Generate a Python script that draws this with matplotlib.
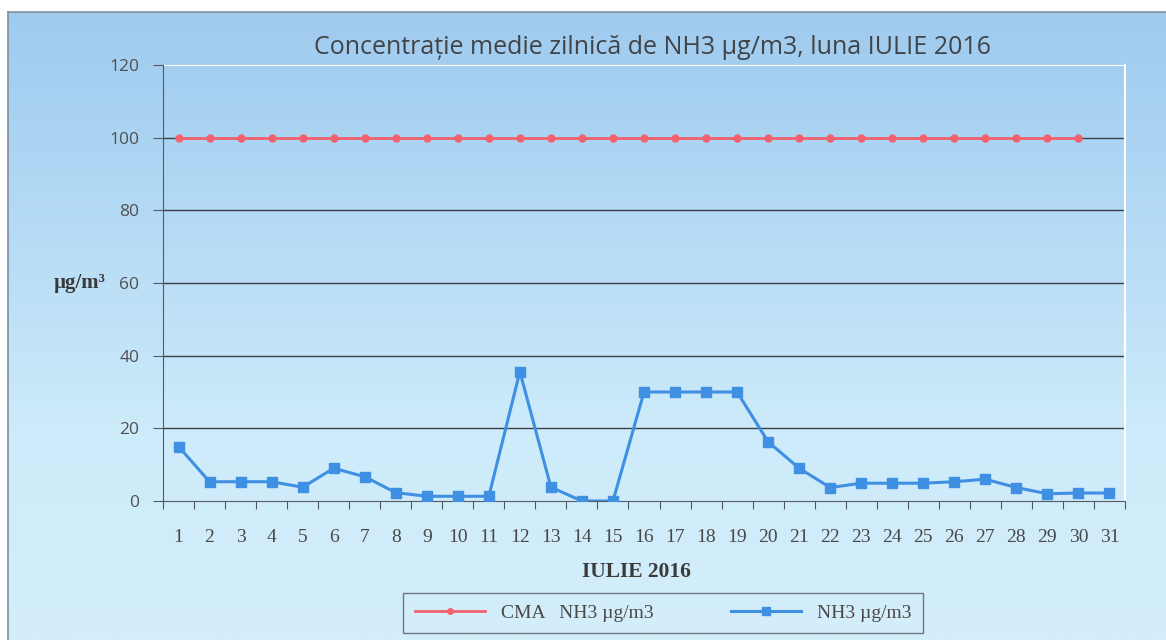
import numpy as np
import matplotlib
matplotlib.use("Agg")
import matplotlib.pyplot as plt
from matplotlib.colors import LinearSegmentedColormap

days = [str(d) for d in range(1, 32)]
cma_days = list(range(1, 31))
cma_values = [100] * 30
nh3_values = [15, 5.3, 5.3, 5.3, 3.8, 9, 6.7, 2.3, 1.3, 1.3, 1.3, 35.6, 3.8, 0, 0,
              30, 30, 30, 30, 16.3, 9, 3.7, 4.9, 4.9, 4.9, 5.3, 6, 3.7, 2, 2.2, 2.2]
yticks = [0, 20, 40, 60, 80, 100, 120]

title = "Concentrație medie zilnică de NH3 µg/m3, luna IULIE 2016"
xlabel = "IULIE 2016"
ylabel = "µg/m³"
legend_labels = ["CMA   NH3 µg/m3", "NH3 µg/m3"]

W, H = 1166, 640
fig = plt.figure(figsize=(W / 100, H / 100), dpi=100)
fig.patch.set_facecolor("white")

# background gradient
bg = fig.add_axes([8 / W, 0, (W - 8) / W, (H - 12) / H])
cmap = LinearSegmentedColormap.from_list("bg", ["#9fcbef", "#b4daf5", "#cdebfa", "#d4eefb"])
grad = np.linspace(0, 1, 256).reshape(-1, 1)
bg.imshow(grad, aspect="auto", cmap=cmap, extent=[0, 1, 0, 1], origin="upper")
bg.set_xticks([]); bg.set_yticks([])
for s in bg.spines.values():
    s.set_color("#7f8fa0"); s.set_linewidth(1.2)
bg.spines["right"].set_visible(False)
bg.spines["bottom"].set_visible(False)

x0, x1, y0, y1 = 163, 1125, 65, 501
ax = fig.add_axes([x0 / W, 1 - y1 / H, (x1 - x0) / W, (y1 - y0) / H])
ax.patch.set_alpha(0)
x = np.arange(1, 32)
ax.set_xlim(0.5, 31.5)
ax.set_ylim(0, 120)
ax.set_yticks(yticks)
for yv in yticks[1:-1]:
    ax.axhline(yv, color="#3a3f48", lw=1.0, zorder=1)
ax.axhline(120, color="white", lw=1.5, zorder=1)
ax.spines["top"].set_visible(False)
ax.spines["right"].set_color("white")
ax.spines["right"].set_linewidth(1.5)
ax.spines["left"].set_color("#555a60")
ax.spines["bottom"].set_color("#555a60")

l1, = ax.plot(cma_days, cma_values, color="#f2626e", lw=2, marker="o", ms=5,
              label=legend_labels[0], zorder=3)
l2, = ax.plot(x, nh3_values, color="#3f8fe3", lw=2.2, marker="s", ms=7,
              label=legend_labels[1], zorder=3)

ax.set_xticks(np.arange(0.5, 32, 1), minor=False)
ax.set_xticklabels([])
ax.set_xticks(x, minor=True)
ax.set_xticklabels(days, minor=True, fontfamily="Liberation Serif", fontsize=14, color="#484848")
ax.tick_params(axis="x", which="major", length=6, color="#555a60", direction="out")
ax.tick_params(axis="x", which="minor", length=0, pad=20)
ax.tick_params(axis="y", length=7, color="#555a60", labelsize=12.5, labelcolor="#505050", pad=10)
for t in ax.get_yticklabels():
    t.set_fontfamily("Open Sans")

fig.text(652 / W, 1 - 47 / H, title, ha="center", va="center", fontsize=18,
         color="#404448", fontfamily="Open Sans")
fig.text(636 / W, 1 - 572 / H, xlabel, ha="center", va="center", fontsize=15.5,
         fontweight="bold", fontfamily="Liberation Serif", color="#3a3a3a")
fig.text(80 / W, 1 - 283 / H, ylabel, ha="center", va="center", fontsize=15,
         fontweight="bold", fontfamily="Liberation Serif", color="#3a3a3a")

leg = fig.legend(handles=[l1, l2], loc="center", bbox_to_anchor=(663 / W, 1 - 613 / H),
                 ncol=2, frameon=True, fancybox=False, edgecolor="#555a60",
                 facecolor="none", prop={"family": "Liberation Serif", "size": 14},
                 handlelength=3.6, columnspacing=4.0, borderpad=0.6, handletextpad=0.8)
for t in leg.get_texts():
    t.set_color("#484848")
leg.legend_handles[0].set_markersize(4)
leg.legend_handles[1].set_markersize(6)

fig.savefig("out.png", dpi=100)
